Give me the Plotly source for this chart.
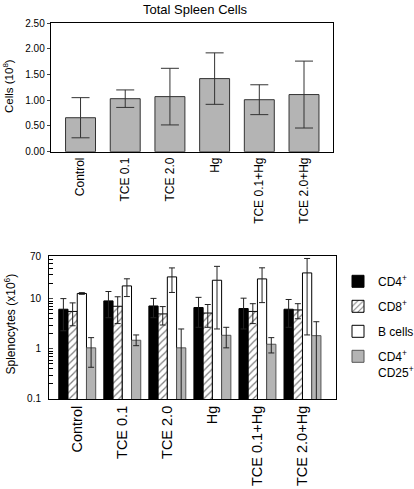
import plotly.graph_objects as go

# ---------------- data ----------------
groups = ["Control", "TCE 0.1", "TCE 2.0", "Hg", "TCE 0.1+Hg", "TCE 2.0+Hg"]

total_cells = [0.66, 1.03, 1.07, 1.42, 1.01, 1.11]
total_err = [0.39, 0.17, 0.55, 0.50, 0.29, 0.65]

cd4 = [6.2, 9.1, 7.2, 6.7, 6.4, 6.2]
cd4_err = [3.9, 4.9, 3.0, 4.0, 3.9, 3.5]
cd8 = [5.6, 7.1, 5.0, 5.2, 5.6, 6.0]
cd8_err = [2.7, 3.9, 2.0, 2.5, 2.4, 2.0]
bcells = [12.8, 18.1, 27.4, 23.5, 25.0, 32.9]
bcells_err = [0.5, 7.0, 14.0, 21.0, 16.6, 31.0]
cd25 = [1.05, 1.49, 1.05, 1.87, 1.24, 1.84]
cd25_err_plus = [0.63, 0.41, 1.45, 0.83, 0.44, 1.65]
cd25_err_minus = [0.62, 0.33, 1.10, 0.82, 0.41, 1.90]

top_ticks = [0, 0.5, 1.0, 1.5, 2.0, 2.5]
log_ticks = [0.1, 1, 10, 70]
log_ticktext = ["0.1", "1", "10", "70"]
log_minor = [0.2, 0.3, 0.4, 0.5, 0.6, 0.7, 0.8, 0.9,
             2, 3, 4, 5, 6, 7, 8, 9, 20, 30, 40, 50, 60]

FONT = "Arial, Liberation Sans, sans-serif"
GRAY = "#b4b4b4"

fig = go.Figure()

# top panel
fig.add_trace(go.Bar(
    x=groups, y=total_cells, xaxis="x", yaxis="y", width=0.67,
    marker=dict(color=GRAY, line=dict(color="#333333", width=1)),
    error_y=dict(type="data", array=total_err, color="#333333", thickness=1, width=9),
    showlegend=False,
))

# bottom panel
def ebar(arr, minus=None):
    d = dict(type="data", array=arr, color="#222222", thickness=1, width=3)
    if minus is not None:
        d["arrayminus"] = minus
        d["symmetric"] = False
    return d

fig.add_trace(go.Bar(
    x=groups, y=cd4, xaxis="x2", yaxis="y2", name="CD4<sup>+</sup>", legendgroup="a",
    marker=dict(color="black", line=dict(color="black", width=1)),
    error_y=ebar(cd4_err),
))
fig.add_trace(go.Bar(
    x=groups, y=cd8, xaxis="x2", yaxis="y2", name="CD8<sup>+</sup>", legendgroup="b",
    marker=dict(color="white", line=dict(color="black", width=1),
                pattern=dict(shape="/", fgcolor="black", bgcolor="white", size=5, solidity=0.25)),
    error_y=ebar(cd8_err),
))
fig.add_trace(go.Bar(
    x=groups, y=bcells, xaxis="x2", yaxis="y2", name="B cells", legendgroup="c",
    marker=dict(color="white", line=dict(color="black", width=1)),
    error_y=ebar(bcells_err),
))
fig.add_trace(go.Bar(
    x=groups, y=cd25, xaxis="x2", yaxis="y2", name="CD4<sup>+</sup><br>CD25<sup>+</sup>", legendgroup="d",
    marker=dict(color=GRAY, line=dict(color="#555555", width=1)),
    error_y=ebar(cd25_err_plus, cd25_err_minus),
))

axis_common = dict(showline=True, linecolor="black", linewidth=1, mirror=True,
                   showgrid=False, zeroline=False, automargin=False,
                   tickfont=dict(family=FONT, size=10, color="black"))

L, R, T, B = 49, 78, 23, 90
W, H = 414, 489
PW, PH = W - L - R, H - T - B


def px_x(p):
    return (p - L) / PW


def px_y(p):
    return (H - B - p) / PH


fig.update_layout(
    width=W, height=H,
    margin=dict(l=L, r=R, t=T, b=B, autoexpand=False),
    paper_bgcolor="white", plot_bgcolor="white",
    font=dict(family=FONT, color="black"),
    barmode="group", bargap=0.18, bargroupgap=0,
    hovermode=False,
    title=dict(text="Total Spleen Cells", x=px_x(195), xref="paper", xanchor="center",
               y=1, yref="paper", yanchor="bottom", pad=dict(t=0, b=9, l=0, r=0),
               font=dict(family=FONT, size=13, color="black")),
    xaxis=dict(axis_common, domain=[0.006, 0.9885], anchor="y", range=[-0.667, 5.642],
               type="category", tickangle=-90, ticks="",
               tickfont=dict(family=FONT, size=12, color="black")),
    yaxis=dict(axis_common, domain=[0.6577, 1.0], anchor="x", range=[0, 2.5],
               tickvals=top_ticks, tickformat=".2f", ticks="outside", ticklen=3),
    xaxis2=dict(axis_common, domain=[0.0, 1.0], anchor="y2", range=[-0.627, 5.744],
                type="category", tickangle=-90, ticks="",
                tickfont=dict(family=FONT, size=14.5, color="black")),
    yaxis2=dict(axis_common, domain=[0.0, 0.379], anchor="x2", type="log",
                range=[-1, 1.8451], tickvals=log_ticks, ticktext=log_ticktext,
                ticks="inside", ticklen=4, ticklabelstandoff=5,
                minor=dict(tickvals=log_minor, ticks="inside", ticklen=4, tickcolor="black")),
    legend=dict(x=338 / W, xref="container", xanchor="left",
                y=1 - 267 / H, yref="container", yanchor="top",
                bgcolor="rgba(0,0,0,0)", font=dict(family=FONT, size=12, color="black"),
                tracegroupgap=6, valign="top", traceorder="grouped"),
    annotations=[
        dict(text="Cells (10<sup>8</sup>)", xref="paper", yref="paper",
             x=px_x(8), y=px_y(86), xanchor="center", yanchor="middle",
             textangle=-90, showarrow=False,
             font=dict(family=FONT, size=11.5, color="black")),
        dict(text="Splenocytes (x10<sup>6</sup>)", xref="paper", yref="paper",
             x=px_x(9.5), y=px_y(324), xanchor="center", yanchor="middle",
             textangle=-90, showarrow=False,
             font=dict(family=FONT, size=12, color="black")),
    ],
)

fig.write_html(
    "out.html",
    config={"displayModeBar": False, "staticPlot": True},
    post_script="document.body.style.margin='0';document.body.style.padding='0';"
                "document.documentElement.style.overflow='hidden';",
)
